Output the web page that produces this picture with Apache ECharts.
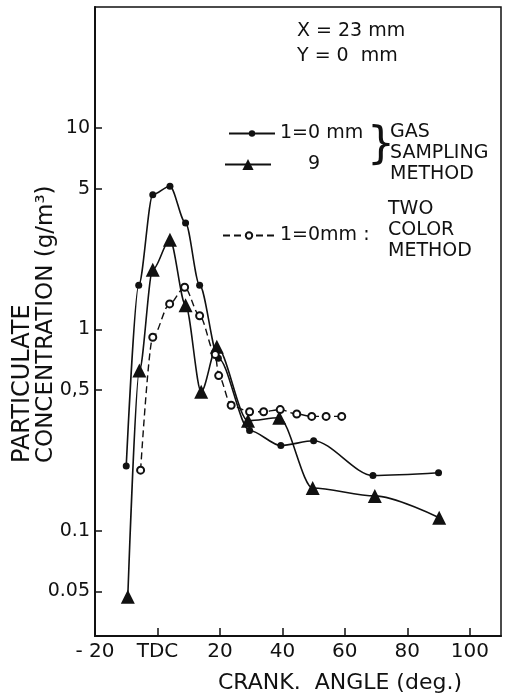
<!DOCTYPE html>
<html>
<head>
<meta charset="utf-8">
<script src="https://cdn.jsdelivr.net/npm/echarts@6/dist/echarts.min.js"></script>
<style>
  html, body { margin: 0; padding: 0; background: #fff; }
  #chart { width: 509px; height: 694px; }
</style>
</head>
<body>
<div id="chart"></div>
<script>
// crank angle (deg) / particulate concentration (g/m3)
const angleGas0 = [-10, -6, -1.5, 4, 9, 13.5, 19.5, 29.5, 39.5, 50, 69, 90]
const concGas0 = [0.21, 1.66, 4.67, 5.15, 3.38, 1.66, 0.72, 0.315, 0.265, 0.28, 0.188, 0.194]

const angleGas9 = [-9.5, -5.8, -1.5, 4, 9, 14, 19, 29, 39, 49.7, 69.6, 90.2]
const concGas9 = [0.047, 0.625, 1.98, 2.79, 1.32, 0.49, 0.82, 0.352, 0.364, 0.163, 0.149, 0.116]

const angleTwoColor = [-5.4, -1.5, 3.9, 8.7, 13.5, 18.5, 19.6, 23.6, 29.5, 34, 39.3, 44.6, 49.4, 54, 59]
const concTwoColor = [0.2, 0.915, 1.34, 1.62, 1.17, 0.75, 0.59, 0.42, 0.39, 0.39, 0.4, 0.38, 0.37, 0.37, 0.37]

const xTickValues = [-20, 0, 20, 40, 60, 80, 100]
const xTickLabels = ['- 20', 'TDC', '20', '40', '60', '80', '100']
const yTickValues = [0.05, 0.1, 0.5, 1, 5, 10]
const yTickLabels = ['0.05', '0.1', '0,5', '1', '5', '10']

const ink = '#111'
const font = 'DejaVu Sans'

const pairs = (xs, ys) => xs.map((x, i) => [x, ys[i]])
// nearest tick (in log space) -> its printed label
const pickLabel = (vals, labels, v) => {
  let best = 0
  vals.forEach((t, i) => {
    if (Math.abs(Math.log(t / v)) < Math.abs(Math.log(vals[best] / v))) best = i
  })
  return labels[best]
}

const chart = echarts.init(document.getElementById('chart'), null, { renderer: 'canvas' })

chart.setOption({
  animation: false,
  backgroundColor: '#fff',
  textStyle: { fontFamily: font, color: ink },
  grid: {
    left: 95, right: 8, top: 7, bottom: 58,
    show: true, borderColor: ink, borderWidth: 1.5
  },
  legend: [{
    data: ['1=0 mm'], left: 228, top: 124, padding: 0,
    itemWidth: 46, itemHeight: 8,
    textStyle: { fontSize: 19, color: ink, fontFamily: font }
  }, {
    data: ['9'], left: 224, top: 155, padding: 0,
    itemWidth: 46, itemHeight: 14,
    textStyle: { fontSize: 19, color: ink, fontFamily: font, padding: [0, 0, 0, 32] }
  }, {
    data: ['1=0mm :'], left: 222, top: 226, padding: 0,
    itemWidth: 52, itemHeight: 8,
    textStyle: { fontSize: 19, color: ink, fontFamily: font }
  }],
  xAxis: {
    type: 'value', min: -20, max: 110,
    splitLine: { show: false },
    axisLine: { onZero: false, lineStyle: { color: ink, width: 2 } },
    axisTick: { inside: true, length: 8, lineStyle: { color: ink, width: 1.5 }, customValues: xTickValues },
    axisLabel: {
      customValues: xTickValues, margin: 6, fontSize: 20, color: ink, fontFamily: font,
      formatter: v => xTickLabels[xTickValues.indexOf(v)] || ''
    }
  },
  yAxis: {
    type: 'log', min: 0.03, max: 40, logBase: 10,
    splitLine: { show: false },
    minorTick: { show: false },
    axisLine: { onZero: false, lineStyle: { color: ink, width: 2 } },
    axisTick: { inside: true, length: 7, lineStyle: { color: ink, width: 1.5 }, customValues: yTickValues },
    axisLabel: {
      customValues: yTickValues, margin: 5, fontSize: 19, color: ink, fontFamily: font,
      formatter: v => pickLabel(yTickValues, yTickLabels, v)
    }
  },
  series: [{
    name: '1=0 mm', type: 'line', smooth: 0.3, smoothMonotone: 'x',
    data: pairs(angleGas0, concGas0),
    symbol: 'circle', symbolSize: 7,
    itemStyle: { color: ink },
    lineStyle: { color: ink, width: 1.6 }
  }, {
    name: '9', type: 'line', smooth: 0.3, smoothMonotone: 'x',
    data: pairs(angleGas9, concGas9),
    symbol: 'triangle', symbolSize: 14,
    itemStyle: { color: ink },
    lineStyle: { color: ink, width: 1.6 }
  }, {
    name: '1=0mm :', type: 'line', smooth: 0.3, smoothMonotone: 'x',
    data: pairs(angleTwoColor, concTwoColor),
    symbol: 'emptyCircle', symbolSize: 7,
    itemStyle: { color: ink, borderColor: ink, borderWidth: 1.3 },
    lineStyle: { color: ink, width: 1.4, type: [7, 4] }
  }],
  graphic: [
    { type: 'text', left: 297, top: 22, style: { text: 'X = 23 mm', font: '19px "DejaVu Sans"', fill: ink } },
    { type: 'text', left: 297, top: 47, style: { text: 'Y = 0  mm', font: '19px "DejaVu Sans"', fill: ink } },
    { type: 'text', x: 367, y: 147, style: { text: '}', font: '44px "DejaVu Sans"', fill: ink, textVerticalAlign: 'middle' } },
    { type: 'text', left: 390, top: 122, style: { text: 'GAS\nSAMPLING\nMETHOD', font: '19px "DejaVu Sans"', lineHeight: 21, fill: ink } },
    { type: 'text', left: 388, top: 199, style: { text: 'TWO\nCOLOR\nMETHOD', font: '19px "DejaVu Sans"', lineHeight: 21, fill: ink } },
    { type: 'text', x: 23, y: 463, rotation: Math.PI / 2,
      style: { text: 'PARTICULATE', font: '24px "DejaVu Sans"', fill: ink, textAlign: 'left', textVerticalAlign: 'middle' } },
    { type: 'text', x: 46, y: 463, rotation: Math.PI / 2,
      style: { text: 'CONCENTRATION (g/m³)', font: '23px "DejaVu Sans"', fill: ink, textAlign: 'left', textVerticalAlign: 'middle' } },
    { type: 'text', x: 218, y: 683, style: { text: 'CRANK.  ANGLE (deg.)', font: '22px "DejaVu Sans"', fill: ink, textAlign: 'left', textVerticalAlign: 'middle' } }
  ]
})
</script>
</body>
</html>
